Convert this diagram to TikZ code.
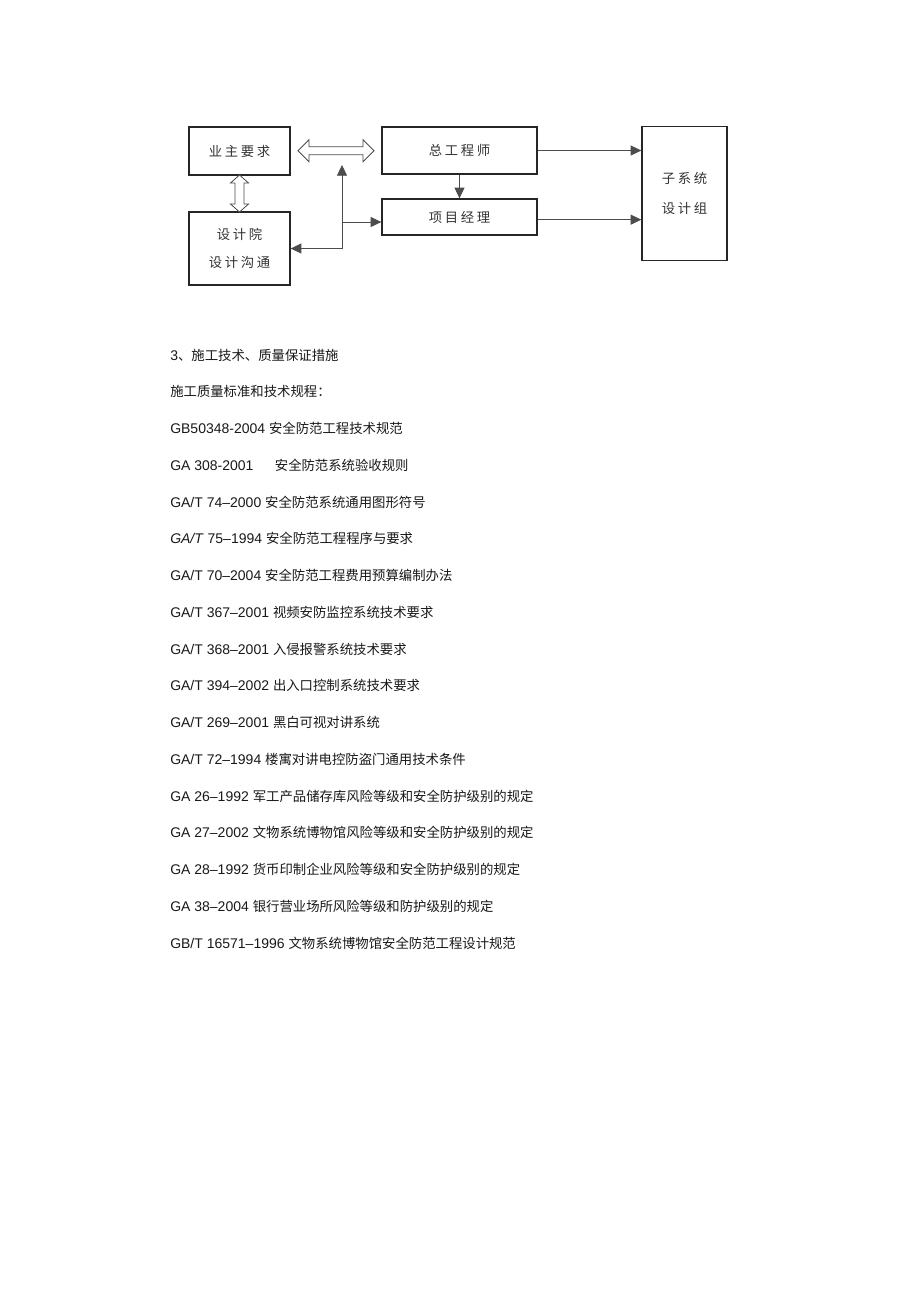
\documentclass[tikz,border=0pt]{standalone}
\usepackage{fontspec}
\setmainfont{Liberation Sans}
\newfontfamily\zh[Scale=0.955]{Noto Sans CJK SC}
\newfontfamily\zhbox[LetterSpace=20]{Noto Sans CJK SC}
\usetikzlibrary{arrows.meta}
\usetikzlibrary{calc}
\tikzset{>={Triangle[length=8pt,width=7.5pt]}}
\tikzset{box/.style={draw=black!85,line width=1pt,inner sep=0pt,align=center,
  text=black!80,font=\zhbox\fontsize{10}{21}\selectfont}}
\tikzset{con/.style={->,draw=black!70,line width=0.6pt}}
\tikzset{hollow/.style={draw=black!70,line width=0.6pt,fill=white}}
\tikzset{txt/.style={anchor=base west,inner sep=0pt,text=black!90,font=\fontsize{10.5}{12}\selectfont}}

\begin{document}
\begin{tikzpicture}[x=0.75pt,y=-0.75pt]
\fill[white] (0,0) rectangle (920,1303);
\useasboundingbox (0,0) rectangle (920,1303);

% organisation chart
\node[box,minimum width=75.75pt,minimum height=36pt] (yezhu) at (239.5,151) {业主要求};
\node[box,minimum width=75.75pt,minimum height=54.75pt] (sheji) at (239.5,248.5) {设计院\\设计沟通};
\node[box,minimum width=116.25pt,minimum height=35.25pt] (zong) at (459.5,150.5) {总工程师};
\node[box,minimum width=116.25pt,minimum height=27pt] (xiangmu) at (459.5,217) {项目经理};
\node[box,minimum width=63.75pt,minimum height=100.5pt] (zixi) at (684.5,193.5) {子系统\\[1pt]设计组};

% hollow double arrows
\coordinate (hmid) at ($(yezhu.east)!0.5!(zong.west)$);
\draw[hollow] (hmid) ++(-38,0) -- ++(11,-11) -- ++(0,7) -- ++(54,0) -- ++(0,-7)
 -- ++(11,11) -- ++(-11,11) -- ++(0,-7) -- ++(-54,0) -- ++(0,7) -- cycle;
\coordinate (vmid) at ($(yezhu.south)!0.5!(sheji.north)$);
\draw[hollow] (vmid) ++(0,-18.5) -- ++(9,8) -- ++(-4.5,0) -- ++(0,21) -- ++(4.5,0)
 -- ++(-9,8) -- ++(-9,-8) -- ++(4.5,0) -- ++(0,-21) -- ++(-4.5,0) -- cycle;

% connectors
\coordinate (xe) at ([yshift=-2pt]xiangmu.east);
\draw[con] (zong.east) -- (zixi.west |- zong.east);
\draw[con] (xe) -- (zixi.west |- xe);
\draw[con] (zong.south) -- (xiangmu.north);

\coordinate (j) at (342,248.5);
\coordinate (hbot) at (342,165);
\coordinate (k) at (342,222);
\draw[con] (j) -- (sheji.east);
\draw[con] (j) -- (hbot);
\draw[con] (k) -- (k -| xiangmu.west);

% standards list
\node[txt] (l0) at (170,360) {3{\zh 、施工技术、质量保证措施}};
\node[txt] (l1) at (170,396.75) {{\zh 施工质量标准和技术规程：}};
\node[txt] (l2) at (170,433.5) {GB50348-2004 {\zh 安全防范工程技术规范}};
\node[txt] (l3) at (170,470.25) {GA 308-2001\hspace{16pt}{\zh 安全防范系统验收规则}};
\node[txt] (l4) at (170,507) {GA/T 74–2000 {\zh 安全防范系统通用图形符号}};
\node[txt] (l5) at (170,543.75) {\textit{GA/T} 75–1994 {\zh 安全防范工程程序与要求}};
\node[txt] (l6) at (170,580.5) {GA/T 70–2004 {\zh 安全防范工程费用预算编制办法}};
\node[txt] (l7) at (170,617.25) {GA/T 367–2001 {\zh 视频安防监控系统技术要求}};
\node[txt] (l8) at (170,654) {GA/T 368–2001 {\zh 入侵报警系统技术要求}};
\node[txt] (l9) at (170,690.75) {GA/T 394–2002 {\zh 出入口控制系统技术要求}};
\node[txt] (l10) at (170,727.5) {GA/T 269–2001 {\zh 黑白可视对讲系统}};
\node[txt] (l11) at (170,764.25) {GA/T 72–1994 {\zh 楼寓对讲电控防盗门通用技术条件}};
\node[txt] (l12) at (170,801) {GA 26–1992 {\zh 军工产品储存库风险等级和安全防护级别的规定}};
\node[txt] (l13) at (170,837.75) {GA 27–2002 {\zh 文物系统博物馆风险等级和安全防护级别的规定}};
\node[txt] (l14) at (170,874.5) {GA 28–1992 {\zh 货币印制企业风险等级和安全防护级别的规定}};
\node[txt] (l15) at (170,911.25) {GA 38–2004 {\zh 银行营业场所风险等级和防护级别的规定}};
\node[txt] (l16) at (170,948) {GB/T 16571–1996 {\zh 文物系统博物馆安全防范工程设计规范}};
\end{tikzpicture}
\end{document}
